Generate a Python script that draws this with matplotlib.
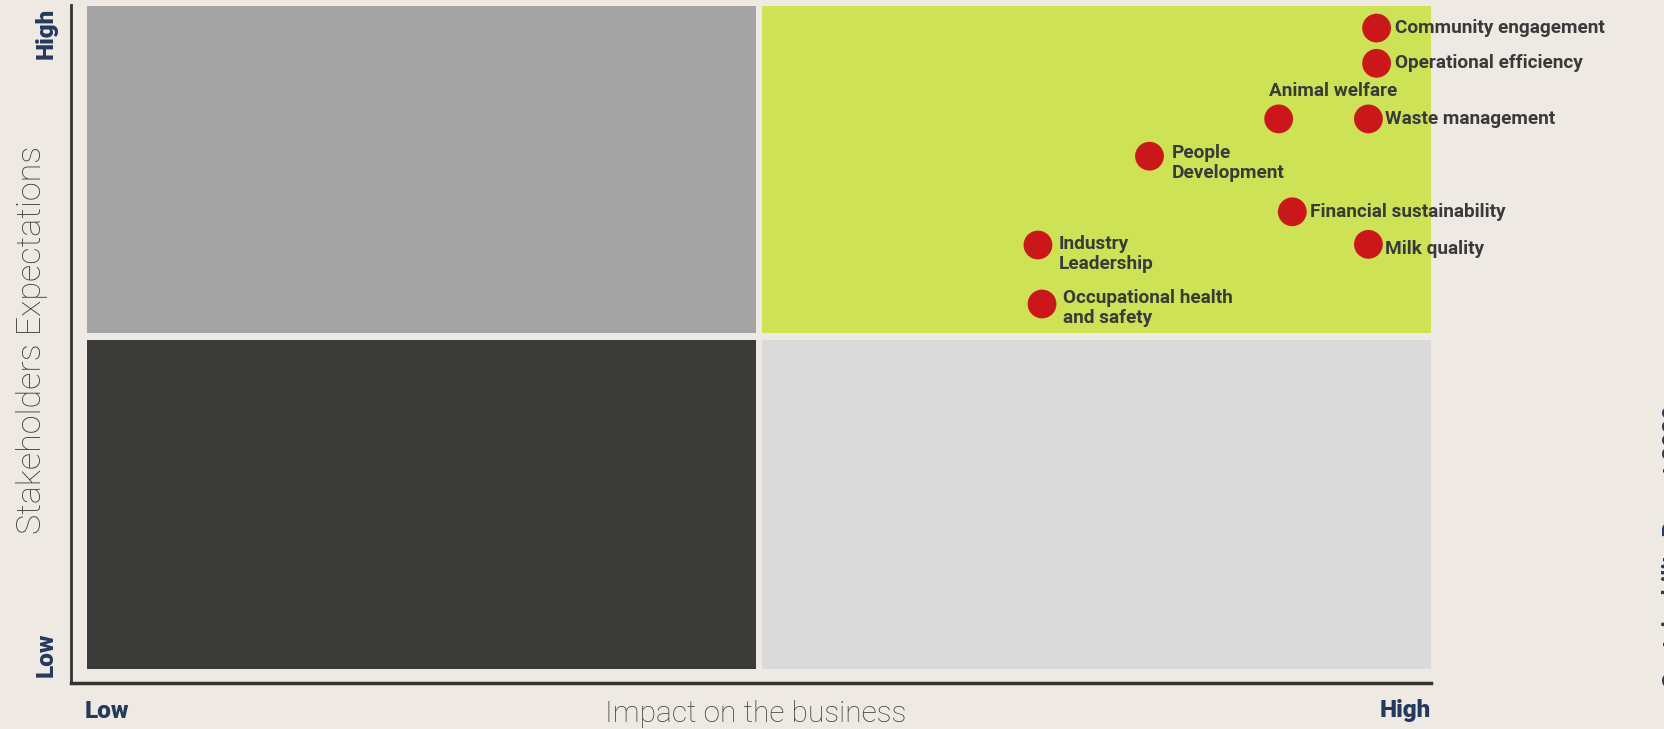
import matplotlib
matplotlib.use("Agg")
import matplotlib.pyplot as plt
from matplotlib.patches import Rectangle

W, H = 1665, 729
DPI = 100

# ---- data ----
topics = ["Community engagement", "Operational efficiency", "Animal welfare",
          "Waste management", "People\nDevelopment", "Financial sustainability",
          "Milk quality", "Industry\nLeadership", "Occupational health\nand safety"]
impact = [96.0, 96.0, 88.8, 95.4, 79.3, 89.8, 95.4, 71.1, 71.4]
expectations = [96.6, 91.4, 83.2, 83.2, 77.7, 69.5, 64.7, 64.6, 55.9]
# label offsets in points (dx, dy)
label_offsets = [(13, 0), (13, 0), (-7, 20), (12, 0), (16, -5), (13, 0), (12, -3), (15, -6.5), (15, -3)]

axis_levels = ["Low", "High"]
x_title = "Impact on the business"
y_title = "Stakeholders Expectations"

bg = "#eeeae3"
navy = "#233a5c"
textc = "#3a3a3a"

fig = plt.figure(figsize=(W / DPI, H / DPI), dpi=DPI, facecolor=bg)

def px(x0, y0, x1, y1):
    return [x0 / W, 1 - y1 / H, (x1 - x0) / W, (y1 - y0) / H]

ax = fig.add_axes(px(71, 5, 1431, 683))
ax.set_xlim(0, 100)
ax.set_ylim(0, 100)
ax.set_facecolor("none")

# quadrants
quads = [
    (1.2, 51.6, 50.4 - 1.2, 99.85 - 51.6, "#a4a4a4"),
    (50.8, 51.6, 100 - 50.8, 99.85 - 51.6, "#cde255"),
    (1.2, 2.1, 50.4 - 1.2, 50.6 - 2.1, "#3b3b3a"),
    (50.8, 2.1, 100 - 50.8, 50.6 - 2.1, "#dadada"),
]
for x0, y0, w, h, c in quads:
    ax.add_patch(Rectangle((x0, y0), w, h, facecolor=c, edgecolor="none", zorder=1))

ax.scatter(impact, expectations, s=430, color="#cc171a", zorder=3, edgecolors="none", clip_on=False)

lab_font = dict(family=["Roboto", "DejaVu Sans"], weight="bold", size=13.7, color=textc)
for t, x, y, (dx, dy) in zip(topics, impact, expectations, label_offsets):
    ax.annotate(t, (x, y), xytext=(dx, dy), textcoords="offset points",
                ha="left", va="center", linespacing=1.15, zorder=4, annotation_clip=False, **lab_font)

for s in ["top", "right"]:
    ax.spines[s].set_visible(False)
ax.spines["left"].set_linewidth(2)
ax.spines["bottom"].set_linewidth(2.5)
ax.spines["left"].set_color("#333333")
ax.spines["bottom"].set_color("#333333")
ax.set_xticks([])
ax.set_yticks([])

lvl_font = dict(family=["Roboto", "DejaVu Sans"], weight="black", size=17.5, color=navy)
fig.text(85 / W, 1 - 711 / H, axis_levels[0], ha="left", va="center", **lvl_font)
fig.text(1431 / W, 1 - 711 / H, axis_levels[1], ha="right", va="center", **lvl_font)
fig.text(46 / W, 1 - 8 / H, axis_levels[1], ha="center", va="top", rotation=90, **lvl_font)
fig.text(46 / W, 1 - 677 / H, axis_levels[0], ha="center", va="bottom", rotation=90, **lvl_font)

title_font = dict(family=["Roboto", "DejaVu Sans"], weight="light", color="#3e3e3e")
fig.text(756 / W, 1 - 714 / H, x_title, ha="center", va="center", size=21.5, **title_font)
fig.text(32 / W, 1 - 340 / H, y_title, ha="center", va="center", rotation=90, size=24.5, **title_font)

# partially visible side caption at right edge
fig.text(1662 / W, 1 - 405 / H, "Sustainability Report 2020", rotation=90, rotation_mode="anchor",
         ha="right", va="top", family=["Roboto", "DejaVu Sans"], weight="bold",
         size=17, color=navy)

fig.savefig("out.png", dpi=DPI, facecolor=bg)
